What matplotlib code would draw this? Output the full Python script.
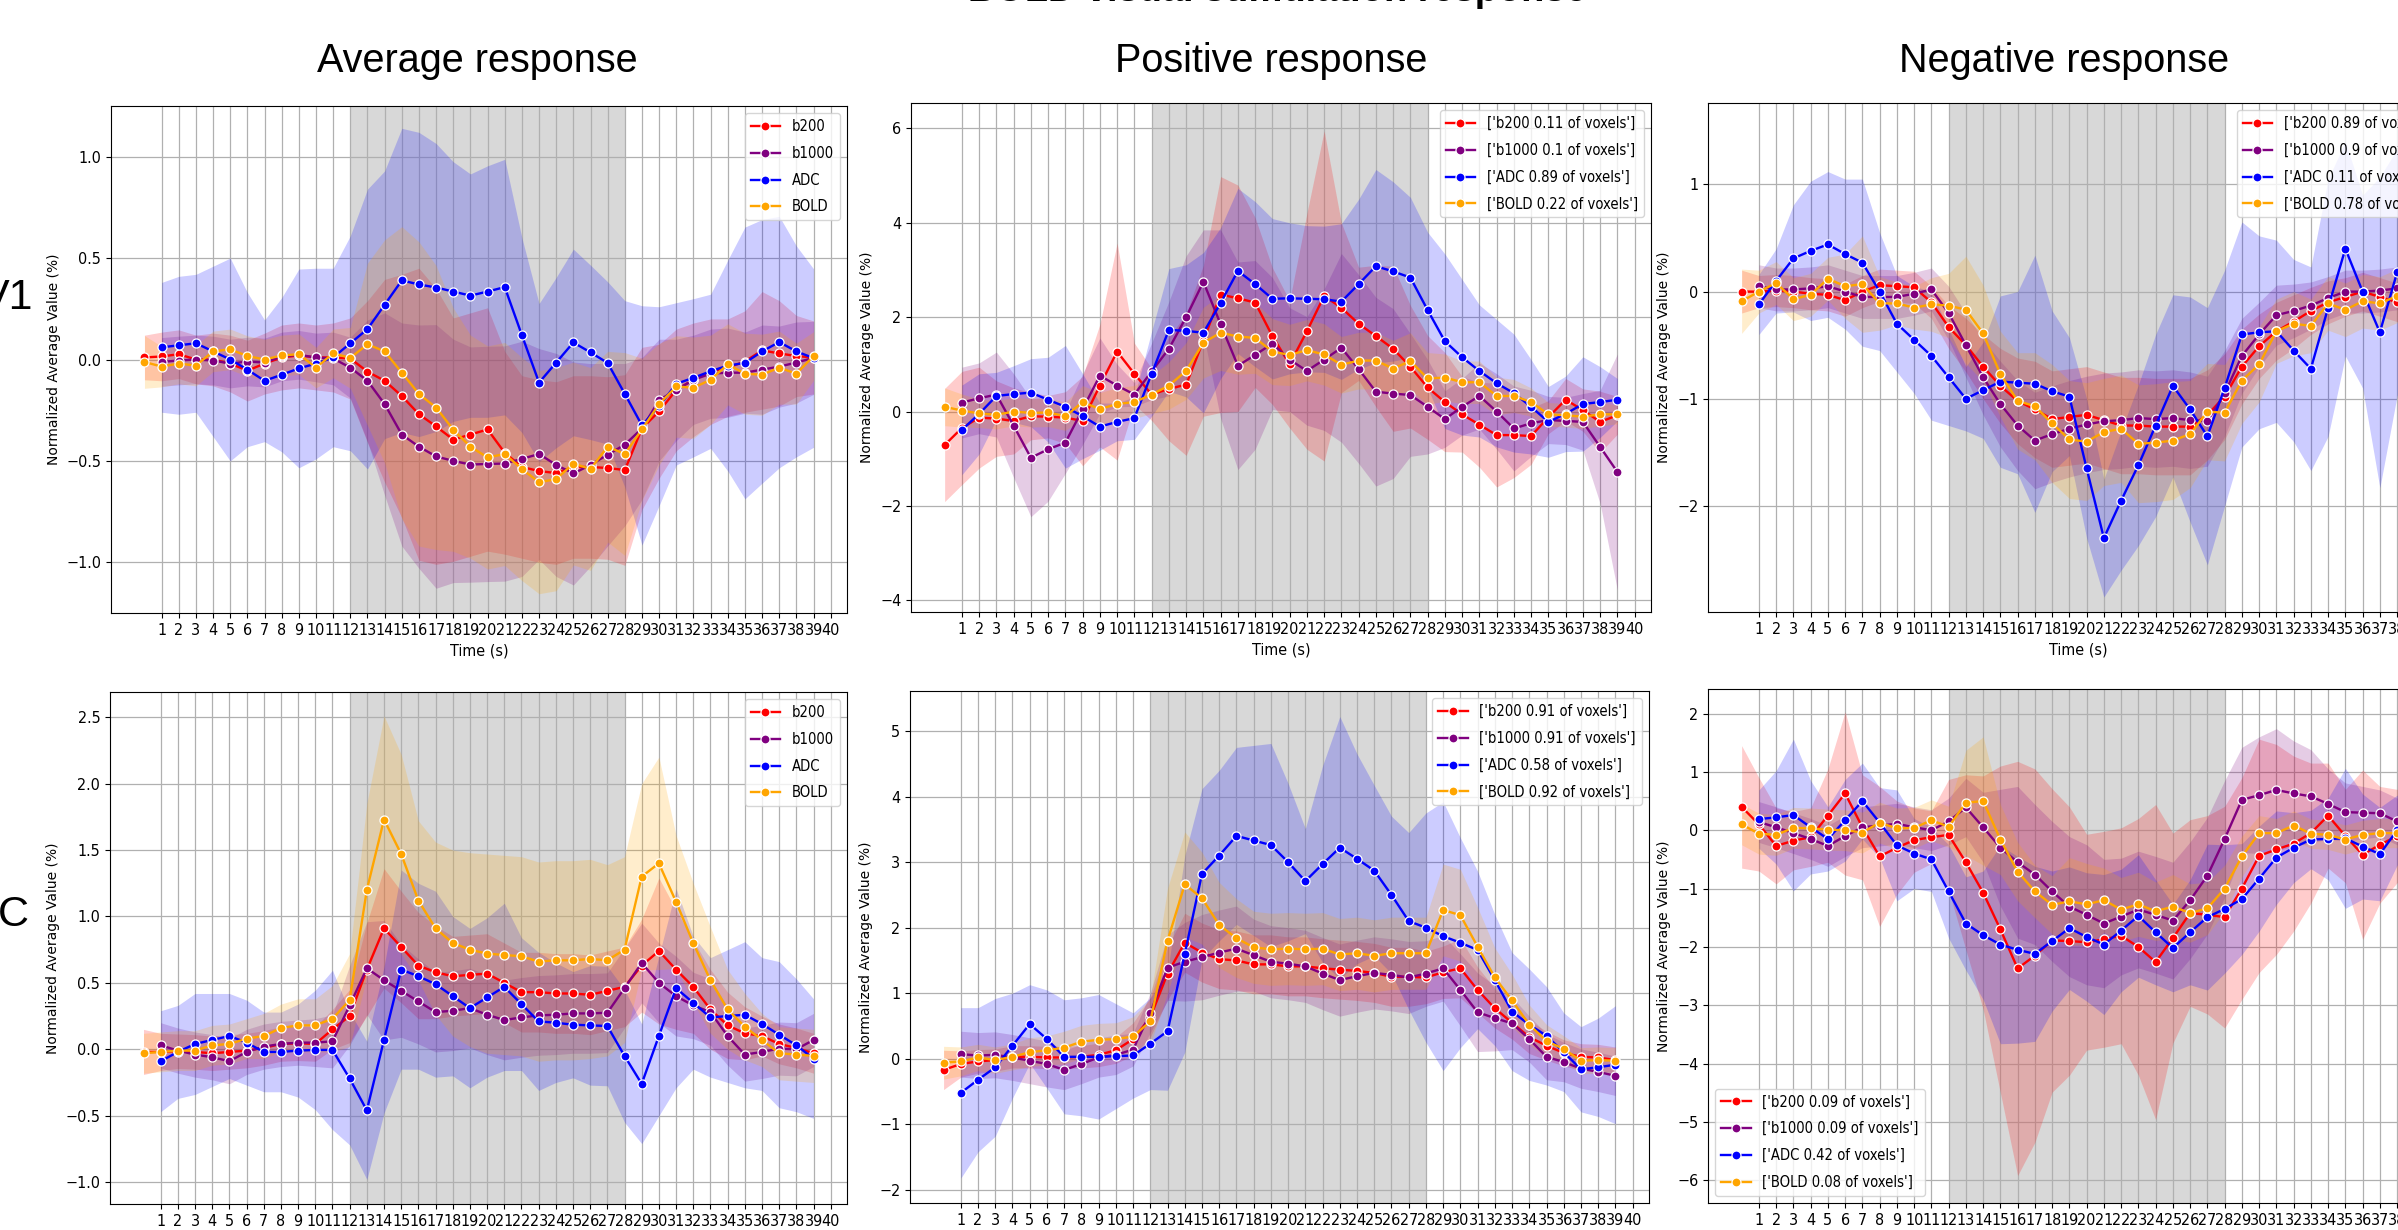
#!/usr/bin/env python3
"""
BOLD / diffusion responses to visual stimulation, V1 and C.
Average, positive and negative responses per voxel group.
"""
import os
import numpy as np
import matplotlib
matplotlib.use("Agg")
import matplotlib.pyplot as plt
from matplotlib import font_manager
from matplotlib.font_manager import FontProperties

# ---- data: mean curves and confidence half-widths ----
# b200 / BOLD are sampled at t = 0..39, b1000 / ADC at t = 1..39

# V1 average
v1_avg_b200 = [0.01, 0.015, 0.026, 0.0, 0.0, -0.02, -0.055, -0.02, 0.01, 0.02,
               0.01, 0.01, 0.005, -0.06, -0.105, -0.18, -0.27, -0.33, -0.395, -0.37,
               -0.345, -0.46, -0.53, -0.55, -0.56, -0.53, -0.53, -0.535, -0.545, -0.34,
               -0.255, -0.15, -0.10, -0.06, -0.04, -0.01, 0.045, 0.03, 0.017, 0.01]
v1_avg_b200_ci = [0.11, 0.12, 0.12, 0.12, 0.13, 0.14, 0.15, 0.15, 0.16, 0.16,
                  0.16, 0.17, 0.2, 0.35, 0.5, 0.6, 0.72, 0.68, 0.6, 0.6,
                  0.6, 0.5, 0.45, 0.45, 0.45, 0.45, 0.45, 0.45, 0.47, 0.4,
                  0.33, 0.3, 0.28, 0.26, 0.24, 0.25, 0.29, 0.26, 0.2, 0.18]
v1_avg_b1000 = [-0.012, -0.005, 0.0, -0.005, -0.02, -0.01, -0.015, 0.015, 0.023, 0.01,
                0.005, -0.04, -0.105, -0.22, -0.37, -0.43, -0.478, -0.50, -0.518, -0.515,
                -0.513, -0.49, -0.466, -0.52, -0.562, -0.52, -0.469, -0.42, -0.34, -0.2,
                -0.15, -0.10, -0.07, -0.065, -0.065, -0.05, -0.035, -0.015, 0.008]
v1_avg_b1000_ci = [0.12, 0.12, 0.12, 0.12, 0.12, 0.12, 0.12, 0.12, 0.12, 0.12,
                   0.13, 0.15, 0.3, 0.45, 0.55, 0.6, 0.65, 0.6, 0.58, 0.58,
                   0.58, 0.58, 0.52, 0.55, 0.55, 0.5, 0.45, 0.4, 0.35, 0.3,
                   0.25, 0.22, 0.22, 0.22, 0.2, 0.22, 0.2, 0.2, 0.18]
v1_avg_adc = [0.06, 0.07, 0.08, 0.04, 0.0, -0.05, -0.105, -0.075, -0.044, -0.02,
              0.01, 0.08, 0.15, 0.27, 0.39, 0.37, 0.355, 0.335, 0.315, 0.335,
              0.357, 0.12, -0.114, -0.015, 0.084, 0.035, -0.017, -0.17, -0.325, -0.23,
              -0.12, -0.09, -0.058, -0.03, -0.017, 0.04, 0.086, 0.04, 0.007]
v1_avg_adc_ci = [0.32, 0.34, 0.34, 0.42, 0.5, 0.38, 0.3, 0.38, 0.49, 0.47,
                 0.44, 0.53, 0.69, 0.66, 0.75, 0.75, 0.71, 0.64, 0.6, 0.62,
                 0.63, 0.48, 0.39, 0.42, 0.46, 0.43, 0.4, 0.46, 0.59, 0.49,
                 0.4, 0.39, 0.38, 0.52, 0.67, 0.65, 0.62, 0.52, 0.44]
v1_avg_bold = [-0.012, -0.035, -0.02, -0.03, 0.04, 0.05, 0.017, 0.0, 0.02, 0.026,
               -0.04, 0.03, 0.008, 0.075, 0.04, -0.065, -0.17, -0.237, -0.346, -0.43,
               -0.483, -0.466, -0.54, -0.605, -0.59, -0.513, -0.54, -0.43, -0.466, -0.344,
               -0.22, -0.133, -0.139, -0.10, -0.024, -0.07, -0.075, -0.04, -0.07, 0.017]
v1_avg_bold_ci = [0.13, 0.1, 0.1, 0.1, 0.1, 0.1, 0.1, 0.1, 0.1, 0.1,
                  0.1, 0.12, 0.15, 0.4, 0.55, 0.72, 0.75, 0.7, 0.6, 0.55,
                  0.55, 0.55, 0.55, 0.55, 0.55, 0.5, 0.5, 0.47, 0.5, 0.35,
                  0.3, 0.25, 0.25, 0.22, 0.2, 0.2, 0.2, 0.18, 0.15, 0.12]

# V1 positive
v1_pos_b200 = [-0.71, -0.35, -0.13, -0.15, -0.2, -0.1, -0.11, -0.13, -0.2, 0.55,
               1.27, 0.8, 0.36, 0.48, 0.57, 1.5, 2.48, 2.4, 2.31, 1.6,
               1.0, 1.7, 2.45, 2.2, 1.86, 1.6, 1.33, 0.95, 0.51, 0.2,
               -0.06, -0.28, -0.5, -0.5, -0.52, -0.12, 0.25, 0.03, -0.22, -0.08]
v1_pos_b200_ci = [1.2, 1.2, 1.07, 0.8, 0.7, 0.5, 0.45, 0.55, 0.95, 1.3,
                  2.3, 0.65, 0.55, 1.1, 1.5, 1.6, 2.5, 2.4, 1.8, 1.45,
                  1.35, 2.5, 3.5, 1.8, 1.2, 1.5, 1.75, 1.3, 1.1, 1.05,
                  0.8, 0.9, 1.1, 0.9, 0.6, 0.35, 0.45, 0.45, 0.65, 0.4]
v1_pos_b1000 = [0.19, 0.28, 0.36, -0.3, -0.98, -0.8, -0.66, 0.05, 0.76, 0.55,
                0.36, 0.85, 1.33, 2.0, 2.75, 1.85, 0.97, 1.2, 1.44, 1.1,
                0.86, 1.1, 1.35, 0.9, 0.42, 0.38, 0.35, 0.1, -0.16, 0.1,
                0.33, 0.0, -0.36, -0.25, -0.18, -0.2, -0.22, -0.75, -1.28]
v1_pos_b1000_ci = [0.75, 0.75, 0.9, 1.1, 1.25, 1.1, 0.65, 0.75, 0.8, 0.45,
                   0.25, 0.6, 1.0, 1.3, 1.1, 2.0, 2.2, 2.0, 1.4, 1.1,
                   1.15, 1.5, 2.0, 2.0, 2.0, 1.8, 1.3, 1.0, 0.6, 0.6,
                   0.7, 0.8, 0.9, 0.7, 0.5, 0.5, 0.6, 1.2, 2.5]
v1_pos_adc = [-0.39, -0.05, 0.33, 0.37, 0.4, 0.25, 0.1, -0.1, -0.32, -0.22,
              -0.14, 0.8, 1.73, 1.71, 1.67, 2.3, 2.98, 2.7, 2.39, 2.4,
              2.39, 2.38, 2.33, 2.7, 3.08, 2.97, 2.84, 2.15, 1.49, 1.15,
              0.86, 0.6, 0.39, 0.1, -0.22, -0.05, 0.16, 0.2, 0.25]
v1_pos_adc_ci = [0.95, 0.85, 0.5, 0.6, 0.72, 0.9, 1.3, 0.9, 0.5, 0.4,
                 0.45, 0.9, 1.3, 1.4, 1.7, 1.6, 1.75, 1.75, 1.7, 1.6,
                 1.55, 1.55, 1.65, 1.8, 2.05, 1.9, 1.7, 1.65, 1.85, 1.65,
                 1.4, 1.35, 1.25, 1.0, 0.75, 0.8, 1.0, 0.75, 0.45]
v1_pos_bold = [0.1, 0.02, -0.04, -0.07, 0.0, -0.03, -0.02, -0.1, 0.2, 0.05,
               0.16, 0.2, 0.36, 0.55, 0.86, 1.46, 1.67, 1.59, 1.56, 1.27,
               1.2, 1.3, 1.21, 0.99, 1.08, 1.08, 0.91, 1.07, 0.7, 0.72,
               0.62, 0.62, 0.33, 0.33, 0.2, -0.06, -0.08, -0.11, -0.06, -0.06]
v1_pos_bold_ci = [0.4, 0.35, 0.3, 0.3, 0.3, 0.3, 0.3, 0.3, 0.35, 0.35,
                  0.35, 0.35, 0.4, 0.5, 0.6, 0.75, 0.8, 0.8, 0.75, 0.7,
                  0.65, 0.65, 0.65, 0.6, 0.6, 0.6, 0.6, 0.6, 0.55, 0.5,
                  0.45, 0.45, 0.4, 0.35, 0.3, 0.25, 0.25, 0.25, 0.25, 0.2]

# V1 negative
v1_neg_b200 = [0.0, 0.0, 0.01, 0.0, -0.02, -0.03, -0.08, 0.0, 0.06, 0.05,
               0.04, -0.1, -0.33, -0.5, -0.7, -0.88, -1.02, -1.1, -1.19, -1.17,
               -1.15, -1.2, -1.25, -1.25, -1.26, -1.26, -1.26, -1.15, -0.98, -0.7,
               -0.51, -0.37, -0.28, -0.18, -0.1, -0.05, 0.0, -0.05, -0.1, -0.1]
v1_neg_b200_ci = [0.2, 0.15, 0.15, 0.15, 0.15, 0.15, 0.15, 0.15, 0.15, 0.15,
                  0.15, 0.15, 0.2, 0.25, 0.3, 0.35, 0.4, 0.45, 0.45, 0.45,
                  0.45, 0.45, 0.45, 0.45, 0.45, 0.45, 0.45, 0.42, 0.4, 0.35,
                  0.3, 0.27, 0.25, 0.22, 0.2, 0.18, 0.18, 0.18, 0.18, 0.18]
v1_neg_b1000 = [0.05, 0.02, 0.02, 0.03, 0.05, 0.0, -0.05, -0.05, -0.05, -0.02,
                0.02, -0.2, -0.5, -0.8, -1.05, -1.25, -1.39, -1.33, -1.28, -1.24,
                -1.21, -1.2, -1.18, -1.19, -1.18, -1.2, -1.21, -0.95, -0.6, -0.4,
                -0.22, -0.18, -0.13, -0.06, 0.0, 0.0, 0.01, 0.03, 0.03]
v1_neg_b1000_ci = [0.2, 0.2, 0.2, 0.2, 0.2, 0.2, 0.2, 0.2, 0.2, 0.2,
                   0.2, 0.25, 0.3, 0.35, 0.4, 0.42, 0.45, 0.45, 0.45, 0.45,
                   0.45, 0.45, 0.45, 0.45, 0.45, 0.45, 0.42, 0.4, 0.35, 0.3,
                   0.28, 0.25, 0.22, 0.2, 0.2, 0.2, 0.2, 0.2, 0.2]
v1_neg_adc = [-0.12, 0.1, 0.31, 0.38, 0.44, 0.35, 0.27, 0.0, -0.3, -0.45,
              -0.6, -0.8, -1.0, -0.92, -0.84, -0.85, -0.86, -0.93, -0.98, -1.65,
              -2.3, -1.95, -1.62, -1.25, -0.88, -1.1, -1.35, -0.9, -0.4, -0.38,
              -0.37, -0.55, -0.72, -0.15, 0.4, 0.0, -0.38, 0.18, 0.3]
v1_neg_adc_ci = [0.28, 0.3, 0.5, 0.65, 0.68, 0.7, 0.78, 0.55, 0.45, 0.5,
                 0.6, 0.45, 0.3, 0.45, 0.8, 0.85, 1.2, 0.75, 0.55, 0.65,
                 0.55, 0.65, 0.75, 0.85, 0.85, 1.05, 1.2, 1.1, 1.05, 0.9,
                 0.85, 0.85, 0.95, 1.2, 1.0, 0.9, 1.45, 1.15, 1.0]
v1_neg_bold = [-0.09, 0.0, 0.08, -0.07, -0.03, 0.12, 0.05, 0.07, -0.11, -0.11,
               -0.15, -0.12, -0.13, -0.17, -0.39, -0.77, -1.02, -1.07, -1.23, -1.38,
               -1.4, -1.31, -1.28, -1.42, -1.41, -1.39, -1.33, -1.12, -1.13, -0.83,
               -0.68, -0.37, -0.3, -0.32, -0.11, -0.17, -0.09, -0.11, -0.04, -0.05]
v1_neg_bold_ci = [0.3, 0.2, 0.2, 0.2, 0.2, 0.2, 0.3, 0.45, 0.25, 0.2,
                  0.2, 0.25, 0.3, 0.5, 0.45, 0.4, 0.45, 0.5, 0.55, 0.55,
                  0.55, 0.5, 0.5, 0.55, 0.55, 0.55, 0.5, 0.45, 0.45, 0.4,
                  0.35, 0.3, 0.3, 0.25, 0.25, 0.25, 0.25, 0.25, 0.25, 0.25]

# C average
c_avg_b200 = [-0.02, -0.02, -0.015, -0.02, -0.03, -0.02, -0.01, 0.01, 0.04, 0.045,
              0.04, 0.15, 0.25, 0.6, 0.91, 0.77, 0.63, 0.58, 0.55, 0.56,
              0.57, 0.5, 0.43, 0.43, 0.42, 0.42, 0.41, 0.44, 0.47, 0.63,
              0.74, 0.6, 0.47, 0.3, 0.18, 0.12, 0.1, 0.04, 0.01, -0.03]
c_avg_b200_ci = [0.17, 0.14, 0.13, 0.13, 0.13, 0.13, 0.13, 0.13, 0.13, 0.13,
                 0.13, 0.15, 0.2, 0.35, 0.45, 0.42, 0.4, 0.35, 0.3, 0.3,
                 0.3, 0.3, 0.3, 0.3, 0.3, 0.3, 0.3, 0.3, 0.3, 0.35,
                 0.55, 0.45, 0.35, 0.3, 0.25, 0.2, 0.15, 0.15, 0.15, 0.15]
c_avg_b1000 = [0.03, -0.01, -0.04, -0.06, -0.09, -0.02, 0.02, 0.04, 0.05, 0.05,
               0.06, 0.33, 0.61, 0.52, 0.44, 0.36, 0.28, 0.29, 0.31, 0.26,
               0.22, 0.24, 0.255, 0.26, 0.27, 0.27, 0.275, 0.46, 0.65, 0.5,
               0.4, 0.33, 0.28, 0.1, -0.04, -0.02, 0.005, 0.0, 0.07]
c_avg_b1000_ci = [0.17, 0.17, 0.17, 0.17, 0.17, 0.17, 0.17, 0.17, 0.17, 0.18,
                  0.2, 0.3, 0.35, 0.45, 0.35, 0.32, 0.3, 0.3, 0.3, 0.3,
                  0.3, 0.3, 0.3, 0.3, 0.3, 0.3, 0.3, 0.3, 0.3, 0.3,
                  0.3, 0.25, 0.25, 0.22, 0.2, 0.2, 0.2, 0.2, 0.2]
c_avg_adc = [-0.09, -0.02, 0.04, 0.07, 0.1, 0.05, -0.02, -0.02, -0.01, -0.005,
             -0.005, -0.22, -0.46, 0.07, 0.6, 0.55, 0.49, 0.4, 0.31, 0.39,
             0.47, 0.34, 0.21, 0.2, 0.185, 0.18, 0.175, -0.05, -0.26, 0.1,
             0.46, 0.35, 0.24, 0.25, 0.26, 0.19, 0.11, 0.03, -0.07]
c_avg_adc_ci = [0.38, 0.35, 0.38, 0.35, 0.32, 0.32, 0.3, 0.3, 0.35, 0.45,
                0.6, 0.5, 0.52, 0.55, 0.75, 0.7, 0.7, 0.6, 0.6, 0.6,
                0.63, 0.5, 0.52, 0.45, 0.4, 0.45, 0.45, 0.5, 0.45, 0.6,
                0.75, 0.5, 0.45, 0.5, 0.55, 0.5, 0.55, 0.5, 0.45]
c_avg_bold = [-0.03, -0.02, -0.01, -0.01, 0.03, 0.04, 0.08, 0.1, 0.16, 0.18,
              0.18, 0.23, 0.37, 1.2, 1.73, 1.47, 1.12, 0.91, 0.8, 0.75,
              0.72, 0.71, 0.7, 0.66, 0.67, 0.67, 0.68, 0.67, 0.75, 1.3,
              1.4, 1.11, 0.8, 0.52, 0.3, 0.17, 0.07, -0.03, -0.04, -0.05]
c_avg_bold_ci = [0.15, 0.15, 0.15, 0.15, 0.15, 0.15, 0.15, 0.17, 0.18, 0.2,
                 0.2, 0.25, 0.35, 0.65, 0.78, 0.75, 0.6, 0.65, 0.7, 0.73,
                 0.75, 0.75, 0.75, 0.75, 0.75, 0.75, 0.75, 0.72, 0.7, 0.7,
                 0.8, 0.5, 0.45, 0.4, 0.3, 0.25, 0.2, 0.2, 0.2, 0.2]

# C positive
c_pos_b200 = [-0.17, -0.08, -0.04, -0.02, 0.03, 0.03, 0.02, 0.02, 0.03, 0.06,
              0.13, 0.3, 0.63, 1.3, 1.77, 1.62, 1.52, 1.5, 1.44, 1.44,
              1.41, 1.41, 1.38, 1.36, 1.34, 1.31, 1.25, 1.25, 1.24, 1.32,
              1.38, 1.05, 0.77, 0.55, 0.33, 0.2, 0.09, 0.03, 0.02, -0.02]
c_pos_b200_ci = [0.3, 0.2, 0.18, 0.17, 0.17, 0.17, 0.17, 0.17, 0.17, 0.18,
                 0.2, 0.25, 0.3, 0.4, 0.45, 0.45, 0.45, 0.45, 0.45, 0.45,
                 0.45, 0.45, 0.45, 0.45, 0.45, 0.45, 0.45, 0.45, 0.4, 0.4,
                 0.45, 0.35, 0.3, 0.25, 0.25, 0.22, 0.2, 0.2, 0.2, 0.2]
c_pos_b1000 = [0.07, 0.05, 0.06, 0.02, -0.03, -0.08, -0.17, -0.08, 0.02, 0.06,
               0.14, 0.7, 1.39, 1.48, 1.55, 1.62, 1.68, 1.58, 1.48, 1.45,
               1.41, 1.3, 1.2, 1.26, 1.31, 1.28, 1.24, 1.3, 1.38, 1.05,
               0.71, 0.62, 0.54, 0.3, 0.03, -0.05, -0.15, -0.2, -0.26]
c_pos_b1000_ci = [0.35, 0.35, 0.35, 0.35, 0.35, 0.35, 0.3, 0.3, 0.3, 0.3,
                  0.25, 0.3, 0.5, 0.6, 0.65, 0.65, 0.65, 0.55, 0.55, 0.55,
                  0.55, 0.55, 0.55, 0.55, 0.55, 0.55, 0.55, 0.5, 0.5, 0.55,
                  0.6, 0.5, 0.4, 0.35, 0.35, 0.3, 0.3, 0.3, 0.3]
c_pos_adc = [-0.52, -0.32, -0.13, 0.2, 0.53, 0.3, 0.03, 0.03, 0.03, 0.04,
             0.05, 0.23, 0.42, 1.6, 2.82, 3.1, 3.4, 3.33, 3.26, 3.0,
             2.71, 2.97, 3.22, 3.05, 2.87, 2.5, 2.1, 2.0, 1.87, 1.77,
             1.66, 1.2, 0.72, 0.52, 0.35, 0.1, -0.16, -0.13, -0.09]
c_pos_adc_ci = [1.3, 1.1, 1.05, 0.8, 0.6, 0.75, 0.87, 0.9, 0.95, 0.8,
                0.65, 0.7, 0.9, 1.5, 1.3, 1.3, 1.35, 1.45, 1.55, 1.2,
                0.8, 1.5, 2.0, 1.6, 1.3, 1.2, 1.35, 1.75, 2.05, 1.6,
                1.2, 1.0, 0.9, 0.85, 0.75, 0.6, 0.65, 0.75, 0.9]
c_pos_bold = [-0.06, -0.04, 0.02, -0.02, 0.03, 0.1, 0.13, 0.17, 0.26, 0.29,
              0.3, 0.34, 0.57, 1.8, 2.66, 2.45, 2.04, 1.84, 1.7, 1.67,
              1.68, 1.67, 1.68, 1.59, 1.61, 1.57, 1.61, 1.61, 1.61, 2.27,
              2.19, 1.71, 1.24, 0.89, 0.52, 0.27, 0.15, -0.03, -0.02, -0.03]
c_pos_bold_ci = [0.25, 0.22, 0.2, 0.2, 0.2, 0.22, 0.22, 0.25, 0.25, 0.25,
                 0.25, 0.3, 0.35, 0.8, 0.8, 0.7, 0.65, 0.6, 0.55, 0.55,
                 0.55, 0.55, 0.55, 0.55, 0.55, 0.55, 0.55, 0.55, 0.55, 0.7,
                 0.7, 0.6, 0.45, 0.4, 0.3, 0.25, 0.2, 0.2, 0.2, 0.2]

# C negative
c_neg_b200 = [0.4, 0.1, -0.27, -0.18, -0.12, 0.25, 0.63, 0.05, -0.45, -0.3,
              -0.17, -0.12, -0.08, -0.55, -1.07, -1.7, -2.37, -2.15, -1.89, -1.9,
              -1.92, -1.87, -1.81, -2.0, -2.26, -1.85, -1.42, -1.45, -1.49, -1.0,
              -0.44, -0.33, -0.23, -0.05, 0.25, -0.1, -0.42, -0.25, -0.1, -0.1]
c_neg_b200_ci = [1.05, 0.8, 0.65, 0.5, 0.5, 0.8, 1.4, 0.9, 1.2, 0.8,
                 0.55, 0.45, 0.95, 1.5, 2.0, 2.8, 3.55, 3.2, 2.6, 2.3,
                 1.85, 1.85, 1.85, 2.2, 2.7, 1.8, 1.6, 1.7, 1.9, 1.9,
                 2.0, 1.8, 1.5, 1.2, 0.9, 0.8, 1.45, 1.0, 0.8, 0.8]
c_neg_b1000 = [0.14, 0.05, -0.05, -0.15, -0.27, -0.1, 0.05, 0.08, 0.11, 0.05,
               0.0, 0.15, 0.39, 0.05, -0.3, -0.55, -0.76, -1.05, -1.31, -1.45,
               -1.6, -1.48, -1.36, -1.45, -1.55, -1.2, -0.78, -0.15, 0.52, 0.6,
               0.69, 0.63, 0.58, 0.45, 0.31, 0.3, 0.29, 0.15, 0.1]
c_neg_b1000_ci = [0.35, 0.35, 0.35, 0.35, 0.35, 0.35, 0.35, 0.35, 0.35, 0.35,
                  0.35, 0.4, 0.5, 0.6, 1.0, 1.3, 1.2, 1.2, 1.2, 1.2,
                  1.1, 1.0, 1.0, 1.0, 1.0, 1.0, 1.0, 1.0, 0.9, 1.0,
                  1.05, 0.9, 0.8, 0.6, 0.5, 0.45, 0.4, 0.4, 0.4]
c_neg_adc = [0.19, 0.22, 0.26, 0.05, -0.15, 0.17, 0.5, 0.13, -0.26, -0.4,
             -0.5, -1.05, -1.6, -1.8, -1.96, -2.05, -2.12, -1.9, -1.68, -1.83,
             -1.96, -1.72, -1.47, -1.75, -2.02, -1.75, -1.49, -1.35, -1.18, -0.83,
             -0.47, -0.3, -0.16, -0.15, -0.14, -0.28, -0.41, 0.0, 0.1]
c_neg_adc_ci = [0.5, 0.8, 1.3, 0.8, 0.55, 0.7, 0.65, 0.6, 0.95, 0.6,
                0.55, 0.8, 0.8, 1.1, 1.7, 1.6, 1.5, 1.2, 1.05, 1.1,
                1.2, 1.05, 1.05, 0.9, 0.75, 0.9, 1.25, 1.1, 0.95, 0.9,
                0.8, 0.6, 0.5, 0.7, 1.2, 0.9, 0.8, 0.6, 0.5]
c_neg_bold = [0.1, -0.06, -0.08, 0.04, 0.03, 0.01, 0.0, -0.04, 0.13, 0.03,
              0.04, 0.17, 0.06, 0.47, 0.5, -0.16, -0.71, -1.05, -1.28, -1.22,
              -1.27, -1.2, -1.36, -1.27, -1.39, -1.31, -1.42, -1.34, -1.0, -0.45,
              -0.05, -0.05, 0.08, -0.06, -0.08, -0.16, -0.08, -0.05, -0.05, -0.05]
c_neg_bold_ci = [0.35, 0.35, 0.35, 0.35, 0.35, 0.35, 0.35, 0.35, 0.35, 0.35,
                 0.35, 0.35, 0.35, 0.9, 1.1, 0.6, 0.5, 0.45, 0.5, 0.75,
                 0.7, 0.55, 0.55, 0.55, 0.5, 0.55, 0.5, 0.45, 0.4, 0.35,
                 0.3, 0.25, 0.25, 0.25, 0.25, 0.25, 0.25, 0.25, 0.25, 0.25]

# legend labels
avg_labels = ["b200", "b1000", "ADC", "BOLD"]
v1_pos_labels = ["['b200 0.11 of voxels']", "['b1000 0.1 of voxels']",
                 "['ADC 0.89 of voxels']", "['BOLD 0.22 of voxels']"]
v1_neg_labels = ["['b200 0.89 of voxels']", "['b1000 0.9 of voxels']",
                 "['ADC 0.11 of voxels']", "['BOLD 0.78 of voxels']"]
c_pos_labels = ["['b200 0.91 of voxels']", "['b1000 0.91 of voxels']",
                "['ADC 0.58 of voxels']", "['BOLD 0.92 of voxels']"]
c_neg_labels = ["['b200 0.09 of voxels']", "['b1000 0.09 of voxels']",
                "['ADC 0.42 of voxels']", "['BOLD 0.08 of voxels']"]

colors = ["red", "purple", "blue", "orange"]
xticks = list(range(1, 41))
stim_on, stim_off = 12, 28

W, H = 2398, 1230


def pick_small_path():
    # the panels look squeezed sideways: a narrow face at a larger size fits best
    faces = {}
    for f in font_manager.fontManager.ttflist:
        key = os.path.basename(f.fname).lower().replace("-", "").replace("_", "")
        faces[key] = f.fname
    wanted = [("liberationsansnarrowregular", 12.5), ("liberationsansnarrow.ttf", 12.5),
              ("dejavusanscondensed.ttf", 11.5), ("robotocondensedregular", 12.5),
              ("notosanscondensed.ttf", 12), ("notosanscondensedregular", 12),
              ("opensanscondensedregular", 12), ("opensanscondensed.ttf", 12)]
    for key, size in wanted:
        for name, path in faces.items():
            if key in name:
                return path, size
    bad = ("bold", "italic", "light", "thin", "medium", "black", "semi", "extra", "oblique")
    for name, path in sorted(faces.items()):
        if ("condensed" in name or "narrow" in name) and not any(b in name for b in bad):
            return path, 12
    for name, path in faces.items():
        if "liberationsansregular" in name:
            return path, 11
    return None, 10


SMALL_PATH, SMALL_SIZE = pick_small_path()


def small_font(scale=1.0):
    if SMALL_PATH is None:
        return FontProperties(family="DejaVu Sans", size=SMALL_SIZE * scale)
    return FontProperties(fname=SMALL_PATH, size=SMALL_SIZE * scale)


TICK_FONT = small_font()
LEGEND_FONT = small_font(0.92)


def px_axes(fig, left, top, right, bottom):
    # axes from pixel box of the full figure
    return fig.add_axes([left / W, 1 - bottom / H, (right - left) / W, (bottom - top) / H])


def draw_panel(ax, series, labels, ylim, yticks, legend_loc):
    for (mean, ci), label, col in zip(series, labels, colors):
        mean = np.asarray(mean)
        ci = np.asarray(ci)
        t = np.arange(40 - len(mean), 40)
        ax.fill_between(t, mean - ci, mean + ci, color=col, alpha=0.2, linewidth=0)
        ax.plot(t, mean, color=col, lw=1.7, marker="o", ms=6.5,
                mec="white", mew=0.9, label=label)
    ax.axvspan(stim_on, stim_off, color="gray", alpha=0.3, zorder=0, linewidth=0)
    ax.set_axisbelow(True)
    ax.grid(True, color="#b0b0b0", lw=0.9)
    ax.set_xticks(xticks)
    ax.set_xlim(-1.95, 40.95)
    ax.set_yticks(yticks)
    ax.set_ylim(*ylim)
    for lbl in ax.get_xticklabels() + ax.get_yticklabels():
        lbl.set_fontproperties(TICK_FONT)
    ax.set_xlabel("Time (s)", fontproperties=TICK_FONT)
    ax.set_ylabel("Normalized Average Value (%)", fontsize=10)
    ax.legend(loc=legend_loc, prop=LEGEND_FONT, labelspacing=0.8)


def main():
    plt.rcParams["font.family"] = ["DejaVu Sans"]
    fig = plt.figure(figsize=(W / 100, H / 100), dpi=100)

    ax_tl = px_axes(fig, 111, 106, 847, 613)
    ax_tm = px_axes(fig, 911, 103, 1651, 612)
    ax_tr = px_axes(fig, 1708, 103, 2448, 612)
    ax_bl = px_axes(fig, 110, 692, 847, 1204)
    ax_bm = px_axes(fig, 910, 691, 1649, 1203)
    ax_br = px_axes(fig, 1708, 689, 2448, 1203)

    draw_panel(ax_tl, [(v1_avg_b200, v1_avg_b200_ci), (v1_avg_b1000, v1_avg_b1000_ci),
                       (v1_avg_adc, v1_avg_adc_ci), (v1_avg_bold, v1_avg_bold_ci)],
               avg_labels, (-1.25, 1.25), [-1.0, -0.5, 0.0, 0.5, 1.0], "upper right")
    draw_panel(ax_tm, [(v1_pos_b200, v1_pos_b200_ci), (v1_pos_b1000, v1_pos_b1000_ci),
                       (v1_pos_adc, v1_pos_adc_ci), (v1_pos_bold, v1_pos_bold_ci)],
               v1_pos_labels, (-4.25, 6.54), [-4, -2, 0, 2, 4, 6], "upper right")
    draw_panel(ax_tr, [(v1_neg_b200, v1_neg_b200_ci), (v1_neg_b1000, v1_neg_b1000_ci),
                       (v1_neg_adc, v1_neg_adc_ci), (v1_neg_bold, v1_neg_bold_ci)],
               v1_neg_labels, (-2.99, 1.76), [-2, -1, 0, 1], "upper right")
    draw_panel(ax_bl, [(c_avg_b200, c_avg_b200_ci), (c_avg_b1000, c_avg_b1000_ci),
                       (c_avg_adc, c_avg_adc_ci), (c_avg_bold, c_avg_bold_ci)],
               avg_labels, (-1.165, 2.69), [-1.0, -0.5, 0.0, 0.5, 1.0, 1.5, 2.0, 2.5],
               "upper right")
    draw_panel(ax_bm, [(c_pos_b200, c_pos_b200_ci), (c_pos_b1000, c_pos_b1000_ci),
                       (c_pos_adc, c_pos_adc_ci), (c_pos_bold, c_pos_bold_ci)],
               c_pos_labels, (-2.2, 5.61), [-2, -1, 0, 1, 2, 3, 4, 5], "upper right")
    draw_panel(ax_br, [(c_neg_b200, c_neg_b200_ci), (c_neg_b1000, c_neg_b1000_ci),
                       (c_neg_adc, c_neg_adc_ci), (c_neg_bold, c_neg_bold_ci)],
               c_neg_labels, (-6.39, 2.42), [-6, -5, -4, -3, -2, -1, 0, 1, 2], "lower left")

    # figure-level texts (the picture is cropped at the top and left)
    fig.text(1277 / W, 1 - 1 / H, "BOLD visual stimulation response", ha="center",
             va="baseline", fontsize=27.4, fontweight="bold", family="Liberation Sans")
    for x, name in [(477, "Average response"), (1271, "Positive response"),
                    (2064, "Negative response")]:
        fig.text(x / W, 1 - 72 / H, name, ha="center", va="baseline",
                 fontsize=28.5, family="Liberation Sans")
    fig.text(33 / W, 1 - 298 / H, "V1", ha="right", va="center", fontsize=31,
             family="Liberation Sans")
    fig.text(-2 / W, 1 - 915 / H, "C", ha="left", va="center", fontsize=31,
             family="Liberation Sans")

    fig.savefig("out.png", dpi=100)
    plt.close(fig)


if __name__ == "__main__":
    main()
